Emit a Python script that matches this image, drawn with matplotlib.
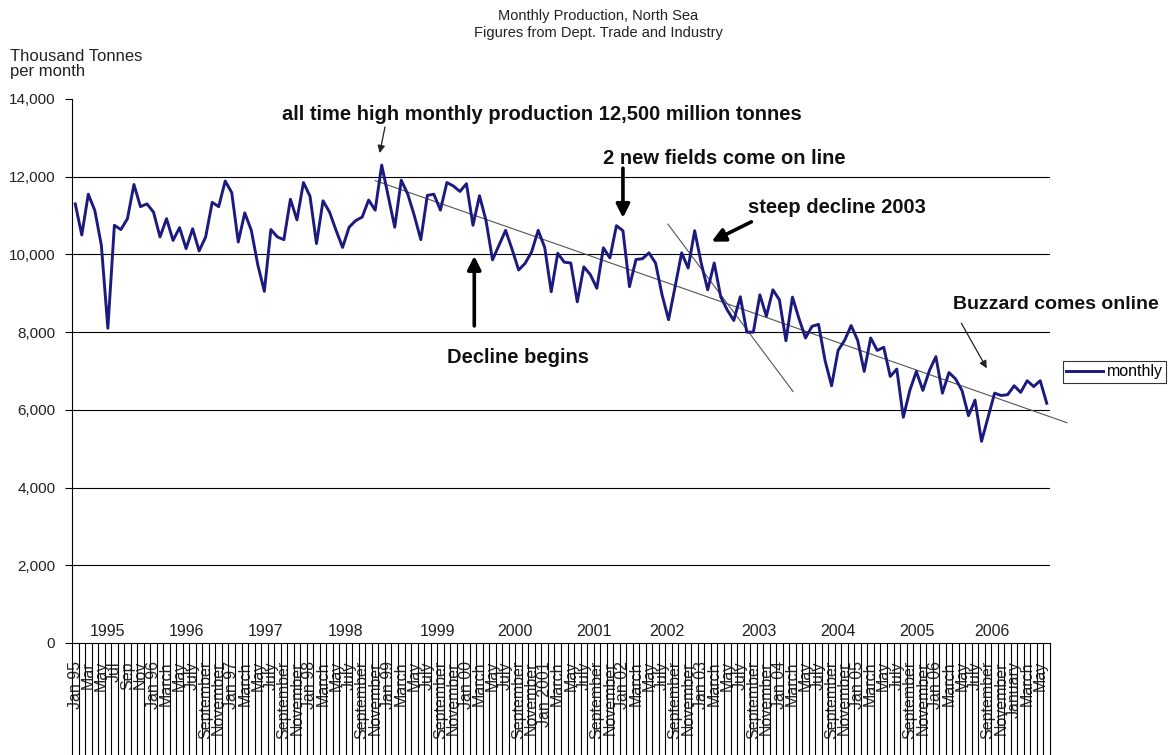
import matplotlib
matplotlib.use("Agg")
import matplotlib.pyplot as plt
import numpy as np

plt.rcParams['font.family'] = ['Liberation Sans', 'DejaVu Sans']

# monthly production, thousand tonnes, Jan 1995 - Jun 2007
production = [
    11300, 10500, 11550, 11130, 10240, 8100, 10750, 10640, 10920, 11800, 11230, 11300,   # 1995
    11090, 10450, 10920, 10360, 10690, 10150, 10660, 10090, 10450, 11340, 11230, 11890,   # 1996
    11590, 10320, 11070, 10620, 9730, 9050, 10640, 10450, 10380, 11420, 10890, 11850,     # 1997
    11500, 10280, 11380, 11090, 10620, 10180, 10700, 10870, 10960, 11400, 11140, 12300,   # 1998
    11500, 10700, 11910, 11550, 11000, 10380, 11520, 11550, 11140, 11850, 11760, 11620,   # 1999
    11820, 10750, 11510, 10870, 9860, 10240, 10620, 10130, 9600, 9770, 10070, 10620,      # 2000
    10180, 9040, 10030, 9800, 9780, 8780, 9680, 9480, 9130, 10170, 9910, 10740,           # 2001
    10610, 9170, 9870, 9890, 10040, 9780, 8960, 8320, 9170, 10040, 9650, 10610,           # 2002
    9780, 9090, 9780, 8910, 8570, 8300, 8910, 8000, 8000, 8960, 8410, 9090,               # 2003
    8830, 7780, 8900, 8350, 7850, 8150, 8200, 7270, 6620, 7530, 7790, 8170,               # 2004
    7790, 6990, 7850, 7530, 7610, 6860, 7050, 5810, 6500, 6990, 6500, 7010,               # 2005
    7370, 6430, 6960, 6800, 6500, 5850, 6250, 5190, 5810, 6430, 6370, 6390,               # 2006
    6620, 6450, 6750, 6600, 6750, 6170,                                                   # 2007
]

# category labels, every other month
month_labels = (
    ["Jan 95", "Mar", "May", "Jul", "Sep", "Nov"]
    + ["Jan 96", "March", "May", "July", "September", "November"]
    + ["Jan 97", "March", "May", "July", "September", "November"]
    + ["Jan 98", "March", "May", "July", "September", "November"]
    + ["Jan 99", "March", "May", "July", "September", "November"]
    + ["Jan 00", "March", "May", "July", "September", "November"]
    + ["Jan 2001", "March", "May", "July", "September", "November"]
    + ["Jan 02", "March", "May", "July", "September", "November"]
    + ["Jan 03", "March", "May", "July", "September", "November"]
    + ["Jan 04", "March", "May", "July", "September", "November"]
    + ["Jan 05", "March", "May", "July", "September", "November"]
    + ["Jan 06", "March", "May", "July", "September", "November"]
    + ["January", "March", "May"]
)

years = ["1995", "1996", "1997", "1998", "1999", "2000",
         "2001", "2002", "2003", "2004", "2005", "2006"]
year_label_x = [4.9, 17.0, 29.2, 41.4, 55.5, 67.4, 79.6, 90.8, 104.8, 117.0, 129.1, 140.6]

# hand drawn trend lines (category index, value)
trend_long_x = [46.0, 152.1]
trend_long_y = [11900, 5670]
trend_steep_x = [90.9, 110.1]
trend_steep_y = [10780, 6470]

navy = '#1c1a7e'

fig = plt.figure(figsize=(11.7, 7.55), dpi=100)
ax = fig.add_axes([72 / 1170, 112 / 755, 978 / 1170, 544 / 755])

n = len(production)
x = np.arange(n)
ax.plot(x, production, color=navy, lw=2.1, label='monthly', zorder=3)

ax.set_xlim(-0.5, n - 0.5)
ax.set_ylim(0, 14000)
ax.set_yticks(range(0, 14001, 2000))
ax.set_yticklabels([f"{v:,}" for v in range(0, 14001, 2000)], fontsize=11, color='#222222')
ax.tick_params(axis='y', length=5, width=0.8, pad=7, direction='out')
for v in range(2000, 12001, 2000):
    ax.axhline(v, color='black', lw=0.8, zorder=1)

ax.set_xticks(x[::2])
ax.set_xticklabels(month_labels, rotation=90, fontsize=11.5, color='#2a2a2a')
ax.tick_params(axis='x', length=0, pad=13)

# one separator line per month running below the axis
ax.vlines(np.arange(-0.5, n, 1), -0.21, 0, transform=ax.get_xaxis_transform(),
          color='black', lw=0.8, clip_on=False)

for s in ['top', 'right']:
    ax.spines[s].set_visible(False)
ax.spines['left'].set_linewidth(0.8)
ax.spines['bottom'].set_linewidth(0.8)

for lab, xp in zip(years, year_label_x):
    ax.text(xp, 0.012, lab, transform=ax.get_xaxis_transform(), ha='center',
            va='baseline', fontsize=11.5, color='#222222')

ax.plot(trend_long_x, trend_long_y, color='#555555', lw=0.8, clip_on=False, zorder=2)
ax.plot(trend_steep_x, trend_steep_y, color='#555555', lw=0.8, clip_on=False, zorder=2)

bold = dict(fontsize=14.5, fontweight='bold', color='#111111', va='center', ha='left')
thick = dict(arrowstyle='-|>', lw=2.6, color='black', mutation_scale=20, shrinkA=0, shrinkB=0)
thin = dict(arrowstyle='-|>', lw=0.9, color='#222222', mutation_scale=11, shrinkA=0, shrinkB=0)

ax.text(31.7, 13610, "all time high monthly production 12,500 million tonnes", **bold)
ax.annotate("", xy=(46.7, 12610), xytext=(47.5, 13280), arrowprops=thin)

ax.text(80.9, 12480, "2 new fields come on line", **bold)
ax.annotate("", xy=(84.0, 10940), xytext=(84.0, 12220), arrowprops=thick)

ax.text(103.2, 11220, "steep decline 2003", **bold)
ax.annotate("", xy=(97.6, 10330), xytext=(103.7, 10840), arrowprops=thick)

ax.text(57.0, 7360, "Decline begins", **bold)
ax.annotate("", xy=(61.2, 9960), xytext=(61.2, 8160), arrowprops=thick)

ax.text(134.6, 8700, "Buzzard comes online", **dict(bold, fontsize=14))
ax.annotate("", xy=(139.8, 7070), xytext=(135.9, 8230), arrowprops=thin)

fig.text(598 / 1170, 1 - 16 / 755, "Monthly Production, North Sea",
         ha='center', va='center', fontsize=10.5, color='#222222')
fig.text(598 / 1170, 1 - 33 / 755, "Figures from Dept. Trade and Industry",
         ha='center', va='center', fontsize=10.5, color='#222222')
fig.text(10 / 1170, 1 - 64 / 755, "Thousand Tonnes\nper month", ha='left', va='center',
         fontsize=12, linespacing=1.05, color='#222222')

leg = fig.legend(loc='center left', bbox_to_anchor=(1063 / 1170, 1 - 372 / 755),
                 fontsize=11.5, frameon=True, fancybox=False, borderpad=0.2,
                 handlelength=2.3, handletextpad=0.25, borderaxespad=0)
leg.get_frame().set_edgecolor('black')
leg.get_frame().set_linewidth(0.8)

fig.savefig('out.png', dpi=100)
